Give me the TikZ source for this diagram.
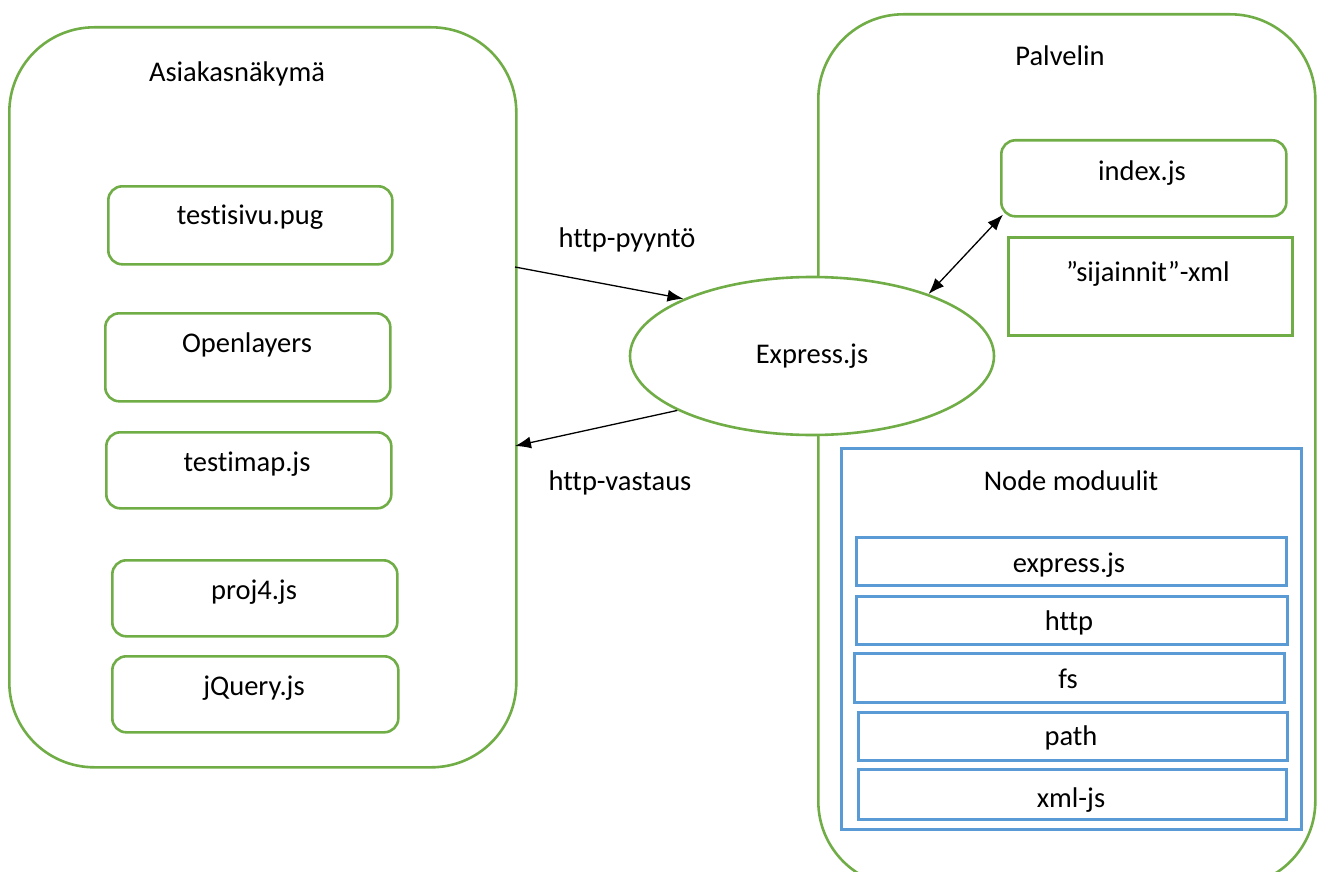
\documentclass[tikz,border=0pt]{standalone}
\usepackage{fontspec}
\setmainfont[Ligatures={NoCommon}]{Carlito}
\usetikzlibrary{shapes.geometric,arrows.meta,calc}
\definecolor{boxgreen}{HTML}{70AD47}
\definecolor{boxblue}{HTML}{5B9BD5}
\tikzset{
  grn/.style={draw=boxgreen, line width=2.6pt},
  container/.style={grn, rounded corners=85pt, inner sep=0pt, anchor=north west},
  item/.style={grn, rounded corners=14pt, inner sep=0pt, anchor=north west},
  sqitem/.style={grn, inner sep=0pt, anchor=north west},
  blu/.style={draw=boxblue, line width=2.6pt, inner sep=0pt, anchor=north west},
  lbl/.style={anchor=mid, inner sep=0pt, yshift=-7pt, font=\fontsize{28.5}{32}\selectfont},
  arr/.style={-{Latex[length=16pt,width=12pt]}, line width=1.3pt},
  darr/.style={{Latex[length=16pt,width=12pt]}-{Latex[length=16pt,width=12pt]}, line width=1.3pt},
}
\begin{document}
\begin{tikzpicture}[x=1pt,y=-1pt]
\useasboundingbox (0,0) rectangle (1328,872);
% left container
\node[container, minimum width=507pt, minimum height=740pt] (left) at (8,26) {};
\node[lbl] (lefttitle) at (237,72) {Asiakasnäkymä};
\node[item, minimum width=284pt, minimum height=78pt] (b1) at (107,185) {};
\node[lbl] (t1) at (250,215) {testisivu.pug};
\node[item, minimum width=285pt, minimum height=88pt] (b2) at (104,312) {};
\node[lbl] (t2) at (247,343) {Openlayers};
\node[item, minimum width=285pt, minimum height=76pt] (b3) at (105,431) {};
\node[lbl] (t3) at (247,462) {testimap.js};
\node[item, minimum width=285pt, minimum height=76pt] (b4) at (111,559) {};
\node[lbl] (t4) at (254,590) {proj4.js};
\node[item, minimum width=286pt, minimum height=76pt] (b5) at (111,655) {};
\node[lbl] (t5) at (254,686) {jQuery.js};
% right container
\node[container, minimum width=497pt, minimum height=872pt] (right) at (817,13) {};
\node[lbl] (righttitle) at (1060,56) {Palvelin};
\node[item, minimum width=285pt, minimum height=76pt] (idx) at (1000,139) {};
\node[lbl] (idxt) at (1142,171) {index.js};
\node[sqitem, minimum width=284pt, minimum height=98pt] (xml) at (1007,236) {};
\node[lbl] (xmlt) at (1148,272) {”sijainnit”-xml};
\node[blu, minimum width=460pt, minimum height=381pt] (mods) at (840,447) {};
\node[lbl] (modst) at (1071,481) {Node moduulit};
\node[blu, minimum width=430pt, minimum height=48pt] (m1) at (855,536) {};
\node[lbl] (m1t) at (1069,563) {express.js};
\node[blu, minimum width=431pt, minimum height=48pt] (m2) at (855,595) {};
\node[lbl] (m2t) at (1069,621) {http};
\node[blu, minimum width=430pt, minimum height=49pt] (m3) at (853,652) {};
\node[lbl] (m3t) at (1068,679) {fs};
\node[blu, minimum width=429pt, minimum height=48pt] (m4) at (857,711) {};
\node[lbl] (m4t) at (1071,736) {path};
\node[blu, minimum width=428pt, minimum height=50pt] (m5) at (857,768) {};
\node[lbl] (m5t) at (1071,798) {xml-js};
% ellipse
\node[ellipse, grn, fill=white, minimum width=364pt, minimum height=158pt, inner sep=0pt,
      font=\fontsize{28.5}{32}\selectfont] (ex) at (812,356) {Express.js};
% labels
\node[lbl] (req) at (627,238) {http-pyyntö};
\node[lbl] (resp) at (620,481) {http-vastaus};
% connectors
\coordinate (reqstart) at (515,267);
\coordinate (respend) at (515,446);
\draw[arr] (reqstart) -- (ex.156.6);
\draw[arr] (ex.202.3) -- (respend);
\draw[darr] (ex.28.5) -- ($(idx.south west)+(3,-3)$);
\end{tikzpicture}
\end{document}
